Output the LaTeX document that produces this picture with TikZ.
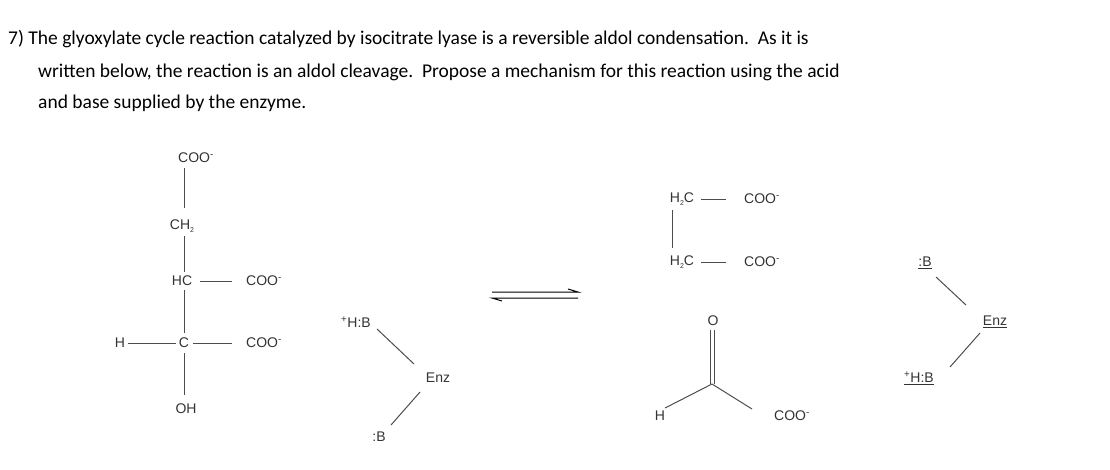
\documentclass[tikz,border=0pt]{standalone}
\usepackage{fontspec}
\setmainfont{Carlito}
\newfontfamily\chemf{Liberation Sans}
\newcommand{\myneg}{\textsuperscript{-}}
\newcommand{\mypos}{\textsuperscript{+}}
\newcommand{\mysub}[1]{\raisebox{-0.25em}{\scriptsize #1}}
\begin{document}
\begin{tikzpicture}[x=1pt,y=-1pt,
  lbl/.style={font=\chemf\fontsize{14}{16}\selectfont,inner sep=0pt,text=black!80},
  bd/.style={line width=1pt,black!70},
  hdr/.style={font=\fontsize{19.5}{23}\selectfont,anchor=base west,inner sep=0pt}]
\useasboundingbox (0,0) rectangle (1110,469);
\node[hdr] (h1) at (8,44) {7) The glyoxylate cycle reaction catalyzed by isocitrate lyase is a reversible aldol condensation.\ \ As it is};
\node[hdr] (h2) at (38,77) {written below, the reaction is an aldol cleavage.\ \ Propose a mechanism for this reaction using the acid};
\node[hdr] (h3) at (38,108) {and base supplied by the enzyme.};
% left molecule
\node[lbl] (c1) at (196,158) {COO\myneg};
\node[lbl] (c2) at (182,226) {CH\mysub{2}};
\node[lbl] (c3) at (182,281) {HC};
\node[lbl] (c3r) at (264,281) {COO\myneg};
\node[lbl] (c4) at (184,343) {C};
\node[lbl] (c4h) at (120,343) {H};
\node[lbl] (c4r) at (264,343) {COO\myneg};
\node[lbl] (oh) at (186,409) {OH};
\draw[bd] (184,168) -- (184,208);
\draw[bd] (184,236) -- (184,272);
\draw[bd] (200,281) -- (232,281);
\draw[bd] (184,290) -- (184,333);
\draw[bd] (128,343) -- (176,343);
\draw[bd] (193,343) -- (232,343);
\draw[bd] (184,353) -- (184,395);
% enzyme 1
\node[lbl] (hb1) at (356,322) {\mypos H:B};
\node[lbl] (enz1) at (438,378) {Enz};
\node[lbl] (b1) at (379,437) {:B};
\draw[bd] (377,329) -- (414,364);
\draw[bd] (420,392) -- (391,425);
% arrows
\draw[line width=1pt] (492,292) -- (578,292) -- (568,289);
\draw[line width=1pt] (578,298) -- (492,298) -- (502,301);
% succinate
\node[lbl] (s1) at (682,199) {H\mysub{2}C};
\node[lbl] (s1r) at (762,199) {COO\myneg};
\node[lbl] (s2) at (682,262) {H\mysub{2}C};
\node[lbl] (s2r) at (762,262) {COO\myneg};
\draw[bd] (701,199) -- (726,199);
\draw[bd] (701,262) -- (726,262);
\draw[bd] (672,210) -- (672,248);
% glyoxylate
\node[lbl] (o) at (713,321) {O};
\node[lbl] (gh) at (660,416) {H};
\node[lbl] (gc) at (792,416) {COO\myneg};
\coordinate (gcen) at (712,384);
\draw[bd] (710.5,330) -- (710.5,384);
\draw[bd] (714.5,330) -- (714.5,384);
\draw[bd] (gcen) -- (665,408);
\draw[bd] (gcen) -- (752,409);
% enzyme 2
\node[lbl] (b2) at (925,263) {\underline{:B}};
\node[lbl] (enz2) at (995,322) {\underline{Enz}};
\node[lbl] (hb2) at (919,378) {\underline{\mypos H:B}};
\draw[bd] (936,277) -- (966,305);
\draw[bd] (980,333) -- (950,367);
\end{tikzpicture}
\end{document}
